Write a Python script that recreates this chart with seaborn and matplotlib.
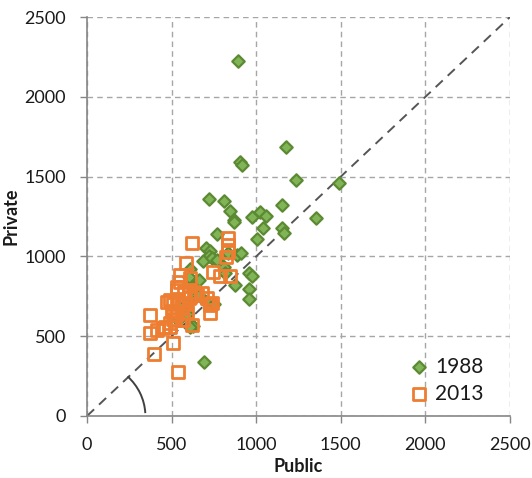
import matplotlib
matplotlib.use("Agg")
import matplotlib.pyplot as plt
import pandas as pd
import seaborn as sb
from matplotlib.patches import Arc

# 1988 (green diamonds)
pub_1988 = [893, 1179, 905, 916, 1236, 1491, 723, 808, 1151, 843, 871, 977, 1025, 1057,
            1355, 1040, 1153, 1167, 766, 1003, 705, 729, 719, 685, 739, 768, 833, 889,
            910, 958, 977, 808, 877, 956, 956, 818, 748, 624, 689, 610, 620, 600, 610,
            650, 560, 590, 700, 540, 660, 600, 867]
priv_1988 = [2226, 1687, 1590, 1572, 1477, 1460, 1357, 1348, 1323, 1282, 1230, 1248, 1278, 1253,
             1239, 1175, 1180, 1148, 1142, 1106, 1051, 1036, 1005, 973, 988, 977, 1019, 1010,
             1020, 898, 879, 935, 821, 794, 731, 894, 700, 566, 338, 921, 810, 716, 560,
             760, 680, 640, 720, 600, 850, 870, 1218]

# 2013 (orange squares)
pub_2013 = [620, 831, 831, 831, 823, 585, 551, 551, 610, 745, 788, 847, 531, 571, 610,
            630, 679, 709, 739, 729, 729, 492, 531, 571, 472, 373, 620, 373, 413, 452,
            492, 511, 397, 537, 500, 530, 560, 510, 580, 490, 540, 600, 460, 520, 570,
            590, 530, 510, 650]
priv_2013 = [1086, 1113, 1071, 1029, 998, 957, 883, 842, 863, 904, 877, 877, 789, 779, 748,
             779, 769, 737, 706, 695, 643, 727, 727, 706, 716, 633, 570, 518, 539, 549,
             560, 455, 388, 278, 660, 640, 680, 610, 700, 580, 720, 740, 560, 600, 600,
             650, 810, 700, 760]

d88 = pd.DataFrame({"Public": pub_1988, "Private": priv_1988})
d13 = pd.DataFrame({"Public": pub_2013, "Private": priv_2013})

sb.set_style("white")
plt.rcParams["font.family"] = ["Lato", "DejaVu Sans"]

fig = plt.figure(figsize=(5.32, 4.78), dpi=100)
ax = fig.add_axes([87/532, 1-416/478, 423/532, 399/478])

ax.set_xlim(0, 2500)
ax.set_ylim(0, 2500)
ax.set_xticks(range(0, 2501, 500))
ax.set_yticks(range(0, 2501, 500))
ax.grid(True, color="#A6A6A6", linestyle=(0, (4, 3)), linewidth=1.0)
ax.set_axisbelow(True)

ax.axline((0, 0), slope=1, color="#555555", linestyle=(0, (5, 3.5)), linewidth=1.4, zorder=1)
ax.add_patch(Arc((0, 0), 690, 690, theta1=3, theta2=46, color="#404040", lw=1.4, zorder=1))

sb.scatterplot(data=d88, x="Public", y="Private", marker="D", s=40,
               color="#80B456", edgecolor="#5B8A33", linewidth=1.6, ax=ax, label="1988", zorder=3)
sb.scatterplot(data=d13, x="Public", y="Private", marker="s", s=75,
               facecolor="none", edgecolor="#ED7D31", linewidth=2.0, ax=ax, label="2013", zorder=4)

for s in ["top", "right"]:
    ax.spines[s].set_visible(False)
for s in ["left", "bottom"]:
    ax.spines[s].set_color("#868686")
    ax.spines[s].set_linewidth(1.2)

ax.tick_params(axis="both", direction="out", length=5, width=1, color="#868686",
               labelsize=13, labelcolor="#1a1a1a", pad=10, left=True, bottom=True)

ax.set_xlabel("Public", fontsize=13, fontweight="bold", color="#1a1a1a")
ax.set_ylabel("Private", fontsize=13, fontweight="bold", color="#1a1a1a")
ax.xaxis.set_label_coords(0.5, -0.105)
ax.yaxis.set_label_coords(-0.16, 0.5)

leg = ax.legend(loc="upper left", bbox_to_anchor=(0.745, 0.17), frameon=False,
                fontsize=15, handlelength=0.8, handletextpad=0.4,
                labelspacing=0.35, borderaxespad=0)
for t in leg.get_texts():
    t.set_color("#1a1a1a")

fig.savefig("out.png", dpi=100)
